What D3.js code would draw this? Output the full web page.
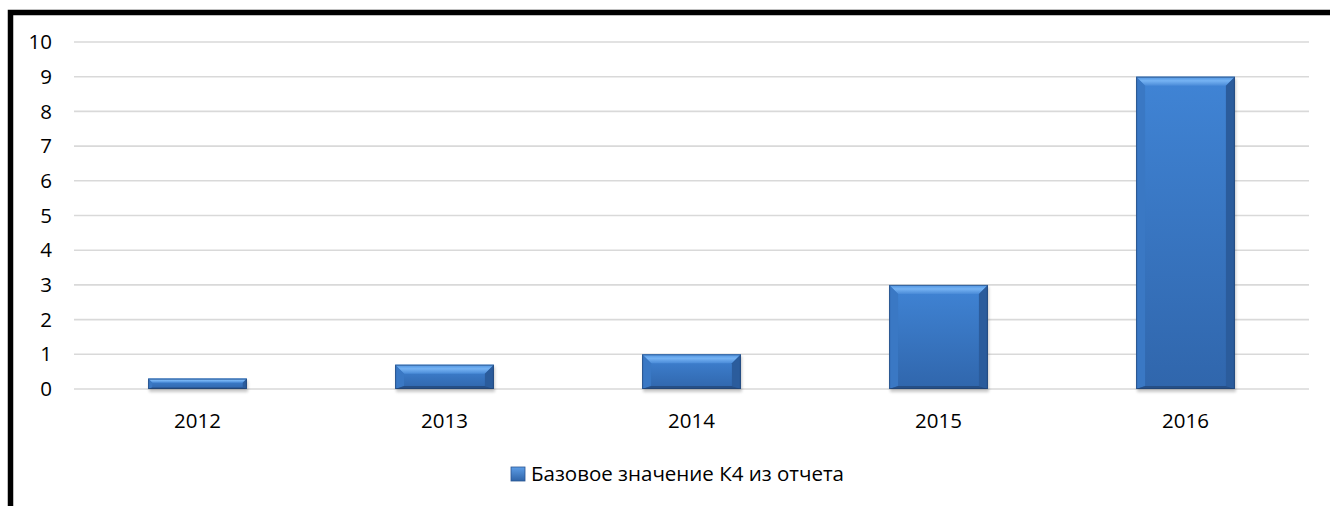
<!DOCTYPE html>
<html lang="ru">
<head>
    <meta charset="UTF-8">
    <title>Базовое значение К4</title>
    <script src="https://cdn.jsdelivr.net/npm/d3@7"></script>
    <style>
        html, body{
            margin: 0;
            padding: 0;
            background: #ffffff;
            overflow: hidden;
        }
        svg{
            display: block;
            font-family: "Open Sans", "Noto Sans", sans-serif;
        }
        .grid line{
            stroke: #d9d9d9;
            stroke-width: 1.6px;
        }
        .lbl{
            font-size: 20.5px;
            fill: #000;
        }
    </style>
</head>
<body>
<script>
    // data
    const years = ["2012", "2013", "2014", "2015", "2016"];
    const values = [0.3, 0.7, 1, 3, 9];
    const yTicks = [0, 1, 2, 3, 4, 5, 6, 7, 8, 9, 10];
    const seriesName = "Базовое значение К4 из отчета";

    const width = 1330, height = 506;
    const margins = {left: 74, right: 21, top: 42, bottom: 117};

    const svg = d3.select("body").append("svg")
        .attr("width", width)
        .attr("height", height);

    // gradients for the bevelled bars
    const defs = svg.append("defs");
    function grad(id, stops, x2, y2){
        const g = defs.append("linearGradient").attr("id", id)
            .attr("x1", 0).attr("y1", 0).attr("x2", x2).attr("y2", y2);
        stops.forEach(s => g.append("stop").attr("offset", s[0]).attr("stop-color", s[1]));
    }
    grad("body", [[0, "#4084d5"], [1, "#3066ac"]], 0, 1);
    grad("top", [[0, "#4d92e0"], [0.45, "#76b3f3"], [1, "#4a8bd8"]], 0, 1);
    grad("leg", [[0, "#5d9de6"], [1, "#2f64a8"]], 0, 1);
    const blur = defs.append("filter").attr("id", "shadow")
        .attr("x", "-10%").attr("y", "-10%").attr("width", "120%").attr("height", "150%");
    blur.append("feGaussianBlur").attr("stdDeviation", 1.5);

    // frame, only top and left edges are visible
    svg.append("path")
        .attr("d", `M10.5,${height + 10} L10.5,12.5 L${width + 10},12.5`)
        .attr("fill", "none")
        .attr("stroke", "#000")
        .attr("stroke-width", 5.5);

    const x = d3.scaleBand()
        .domain(years)
        .range([margins.left, width - margins.right])
        .paddingInner(0.6)
        .paddingOuter(0.3);

    const y = d3.scaleLinear()
        .domain([0, 10])
        .range([height - margins.bottom, margins.top]);

    // grid
    svg.append("g").attr("class", "grid")
        .selectAll("line")
        .data(yTicks)
        .join("line")
        .attr("x1", margins.left)
        .attr("x2", width - margins.right)
        .attr("y1", d => y(d))
        .attr("y2", d => y(d));

    // y labels
    svg.append("g")
        .selectAll("text")
        .data(yTicks)
        .join("text")
        .attr("class", "lbl")
        .attr("x", 52)
        .attr("y", d => y(d))
        .attr("dy", "0.35em")
        .attr("text-anchor", "end")
        .text(d => d);

    // bars
    const bars = svg.append("g")
        .selectAll("g")
        .data(years.map((yr, i) => ({year: yr, value: values[i]})))
        .join("g");

    bars.append("rect")
        .attr("x", d => x(d.year) + 1)
        .attr("y", d => y(d.value) + 2)
        .attr("width", x.bandwidth())
        .attr("height", d => y(0) - y(d.value) + 1)
        .attr("fill", "#000")
        .attr("opacity", 0.22)
        .attr("filter", "url(#shadow)");

    bars.append("rect")
        .attr("x", d => x(d.year))
        .attr("y", d => y(d.value))
        .attr("width", x.bandwidth())
        .attr("height", d => y(0) - y(d.value))
        .attr("fill", "url(#body)");

    function bevel(d){
        const x0 = x(d.year), x1 = x0 + x.bandwidth();
        const y0 = y(d.value), y1 = y(0);
        const h = y1 - y0;
        const t = Math.min(9, h * 0.4), s = Math.min(9, h * 0.4), b = Math.min(3, h * 0.15);
        return {x0, x1, y0, y1, t, s, b};
    }

    // top facet
    bars.append("path")
        .attr("fill", "url(#top)")
        .attr("d", d => {
            const v = bevel(d);
            return `M${v.x0},${v.y0} L${v.x1},${v.y0} L${v.x1 - v.s},${v.y0 + v.t} L${v.x0 + v.s},${v.y0 + v.t} Z`;
        });
    // left facet
    bars.append("path")
        .attr("fill", "#3a78c4")
        .attr("d", d => {
            const v = bevel(d);
            return `M${v.x0},${v.y0} L${v.x0 + v.s},${v.y0 + v.t} L${v.x0 + v.s},${v.y1 - v.b} L${v.x0},${v.y1} Z`;
        });
    // right facet
    bars.append("path")
        .attr("fill", "#2b5c9c")
        .attr("d", d => {
            const v = bevel(d);
            return `M${v.x1},${v.y0} L${v.x1 - v.s},${v.y0 + v.t} L${v.x1 - v.s},${v.y1 - v.b} L${v.x1},${v.y1} Z`;
        });
    // bottom facet
    bars.append("path")
        .attr("fill", "#264f86")
        .attr("d", d => {
            const v = bevel(d);
            return `M${v.x0},${v.y1} L${v.x0 + v.s},${v.y1 - v.b} L${v.x1 - v.s},${v.y1 - v.b} L${v.x1},${v.y1} Z`;
        });
    // thin dark outline on the sides
    bars.append("rect")
        .attr("x", d => x(d.year) + 0.5)
        .attr("y", d => y(d.value) + 0.5)
        .attr("width", x.bandwidth() - 1)
        .attr("height", d => y(0) - y(d.value) - 1)
        .attr("fill", "none")
        .attr("stroke", "#1f3f6c")
        .attr("stroke-opacity", 0.6)
        .attr("stroke-width", 1);

    // x labels
    svg.append("g")
        .selectAll("text")
        .data(years)
        .join("text")
        .attr("class", "lbl")
        .attr("x", d => x(d) + x.bandwidth() / 2)
        .attr("y", 428)
        .attr("text-anchor", "middle")
        .text(d => d);

    // legend
    const legend = svg.append("g");
    legend.append("rect")
        .attr("x", 0).attr("y", -14)
        .attr("width", 14).attr("height", 14)
        .attr("fill", "url(#leg)")
        .attr("stroke", "#2a5592")
        .attr("stroke-width", 0.8);
    const ltext = legend.append("text")
        .attr("class", "lbl")
        .attr("x", 20).attr("y", 0)
        .text(seriesName);
    const lw = 20 + ltext.node().getComputedTextLength();
    legend.attr("transform", `translate(${677.5 - lw / 2},481)`);
</script>
</body>
</html>
